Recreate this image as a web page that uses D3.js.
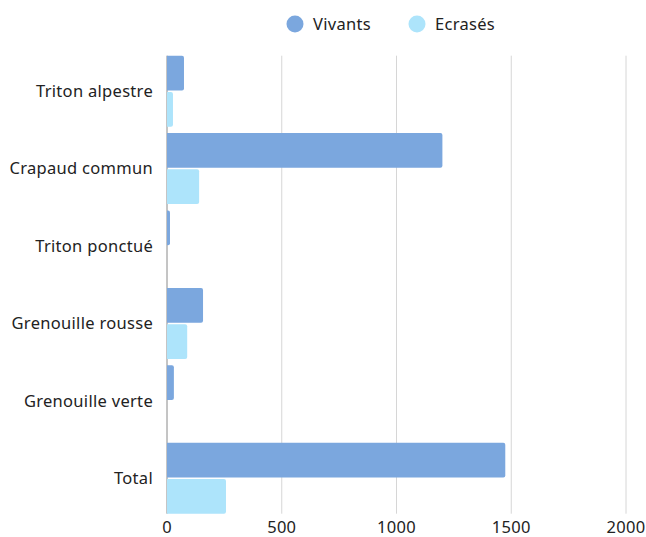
<!DOCTYPE html>
<html>
<head>
<meta charset="utf-8">
<script src="https://cdn.jsdelivr.net/npm/d3@7"></script>
<style>
  body { margin: 0; background: #fff; }
  svg text { font-family: "Noto Sans", "Open Sans", sans-serif; fill: #222; font-size: 16.5px; letter-spacing: 0.3px; }
</style>
</head>
<body>
<div id="chart"></div>
<script>
// Données
const categories = ['Triton alpestre', 'Crapaud commun', 'Triton ponctué', 'Grenouille rousse', 'Grenouille verte', 'Total'];
const seriesNames = ['Vivants', 'Ecrasés'];
const vivants = [74, 1200, 13, 157, 30, 1474];
const ecrases = [26, 140, 0, 88, 0, 257];
const colors = ['#7ba7de', '#ade4fb'];
const xTicks = [0, 500, 1000, 1500, 2000];

const width = 646, height = 537;
const margin = { top: 55.7, right: 20, bottom: 23, left: 167 };

const svg = d3.select('#chart')
    .append('svg')
    .attr('width', width)
    .attr('height', height);

const x = d3.scaleLinear()
    .domain([0, 2000])
    .range([margin.left, 626]);

const y = d3.scaleBand()
    .domain(categories)
    .range([margin.top, height - margin.bottom - 0.3])
    .paddingInner(0.083)
    .paddingOuter(0);

const ySub = d3.scaleBand()
    .domain(seriesNames)
    .range([0, y.bandwidth()])
    .paddingInner(0.04);

// Grille verticale
svg.append('g')
    .selectAll('line')
    .data(xTicks.filter(d => d > 0))
    .enter()
    .append('line')
    .attr('x1', d => x(d)).attr('x2', d => x(d))
    .attr('y1', margin.top).attr('y2', height - margin.bottom - 0.3)
    .attr('stroke', '#d6d6d6')
    .attr('stroke-width', 1);

// Axe vertical
svg.append('line')
    .attr('x1', x(0)).attr('x2', x(0))
    .attr('y1', margin.top).attr('y2', height - margin.bottom - 0.3)
    .attr('stroke', '#8a8a8a')
    .attr('stroke-width', 1);

// Barre arrondie à droite seulement
function barPath(x0, y0, w, h, r) {
    r = Math.min(r, w, h / 2);
    return `M${x0},${y0}H${x0 + w - r}Q${x0 + w},${y0} ${x0 + w},${y0 + r}` +
        `V${y0 + h - r}Q${x0 + w},${y0 + h} ${x0 + w - r},${y0 + h}H${x0}Z`;
}

// Barres
const rows = categories.map((c, i) => ({ cat: c, values: [vivants[i], ecrases[i]] }));
const group = svg.append('g')
    .selectAll('g')
    .data(rows)
    .enter()
    .append('g')
    .attr('transform', d => `translate(0,${y(d.cat)})`);

group.selectAll('path')
    .data(d => d.values.map((v, j) => ({ v, name: seriesNames[j], j })))
    .enter()
    .filter(d => d.v > 0)
    .append('path')
    .attr('d', d => barPath(x(0), ySub(d.name), x(d.v) - x(0), ySub.bandwidth(), 2))
    .attr('fill', d => colors[d.j]);

// Libellés des catégories
svg.append('g')
    .selectAll('text')
    .data(categories)
    .enter()
    .append('text')
    .attr('x', 153)
    .attr('y', d => y(d) + y.bandwidth() / 2)
    .attr('dy', '0.35em')
    .attr('text-anchor', 'end')
    .text(d => d);

// Graduations de l'axe X
svg.append('g')
    .selectAll('text')
    .data(xTicks)
    .enter()
    .append('text')
    .attr('x', d => x(d))
    .attr('y', 527)
    .attr('dy', '0.35em')
    .attr('text-anchor', 'middle')
    .text(d => d);

// Légende
const legendX = [295, 417];
const legend = svg.append('g')
    .selectAll('g')
    .data(seriesNames)
    .enter()
    .append('g')
    .attr('transform', (d, i) => `translate(${legendX[i]},24)`);

legend.append('circle')
    .attr('r', 8.5)
    .attr('fill', (d, i) => colors[i]);

legend.append('text')
    .attr('x', 18)
    .attr('dy', '0.35em')
    .text(d => d);
</script>
</body>
</html>
